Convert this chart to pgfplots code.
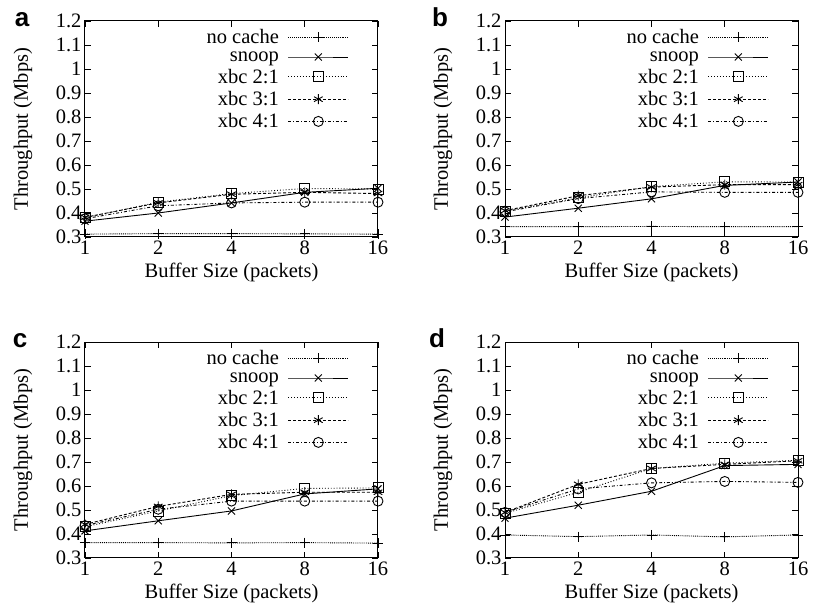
\documentclass[border=0pt]{standalone}
\usepackage{fontspec}
\setmainfont{Liberation Serif}
\newfontfamily\lettfont{Liberation Sans}
\usepackage{pgfplots}
\pgfplotsset{compat=1.18}
\begin{document}
\begin{tikzpicture}
\path[use as bounding box] (0pt,0pt) rectangle (814pt,612pt);
% panel a
\begin{axis}[at={(85pt,375pt)}, anchor=south west,
    scale only axis, width=293pt, height=216pt,
    xmode=log, log basis x=2, xmin=1, xmax=16,
    ymin=0.3, ymax=1.2,
    xtick={1,2,4,8,16}, xticklabels={1,2,4,8,16},
    ytick={0.3,0.4,0.5,0.6,0.7,0.8,0.9,1,1.1,1.2},
    yticklabels={0.3,0.4,0.5,0.6,0.7,0.8,0.9,1,1.1,1.2},
    tick align=inside, major tick length=6pt,
    tick style={black, line width=0.8pt},
    axis line style={line width=1pt},
    ticklabel style={font=\fontsize{20.5}{24}\selectfont},
    label style={font=\fontsize{20.5}{24}\selectfont},
    xlabel={Buffer Size (packets)},
    ylabel={Throughput (Mbps)},
    xlabel style={at={([yshift=-35pt]axis description cs:0.5,0)}, anchor=center},
    ylabel style={at={([xshift=-62pt]axis description cs:0,0.5)}, anchor=center},
    legend style={draw=none, fill=none, at={(1,1)}, anchor=north east, xshift=-26pt, yshift=-4pt,
      font=\fontsize{20.5}{24}\selectfont, row sep=2.5pt, /tikz/every odd column/.append style={column sep=7pt}},
    legend cell align=right, legend plot pos=right,
    legend image code/.code={\draw[mark repeat=2,mark phase=2] plot coordinates {(0pt,0pt) (30pt,0pt) (60pt,0pt)};}]
\addplot[black, line width=0.9pt, mark size=5pt, mark options={solid}, densely dotted, mark=+] coordinates {(1,0.312) (2,0.314) (4,0.314) (8,0.313) (16,0.312)};
\addplot[black, line width=0.9pt, mark size=5pt, mark options={solid}, solid, mark=x] coordinates {(1,0.366) (2,0.400) (4,0.442) (8,0.486) (16,0.503)};
\addplot[black, line width=0.9pt, mark size=5pt, mark options={solid}, dotted, mark=square] coordinates {(1,0.380) (2,0.445) (4,0.481) (8,0.502) (16,0.500)};
\addplot[black, line width=0.9pt, mark size=5pt, mark options={solid}, densely dashed, mark=asterisk] coordinates {(1,0.382) (2,0.442) (4,0.478) (8,0.486) (16,0.481)};
\addplot[black, line width=0.9pt, mark size=5pt, mark options={solid}, dash dot, mark=o] coordinates {(1,0.376) (2,0.430) (4,0.442) (8,0.445) (16,0.445)};
\legend{no cache, snoop, xbc 2:1, xbc 3:1, xbc 4:1}
\end{axis}
% panel b
\begin{axis}[at={(505pt,375pt)}, anchor=south west,
    scale only axis, width=293pt, height=216pt,
    xmode=log, log basis x=2, xmin=1, xmax=16,
    ymin=0.3, ymax=1.2,
    xtick={1,2,4,8,16}, xticklabels={1,2,4,8,16},
    ytick={0.3,0.4,0.5,0.6,0.7,0.8,0.9,1,1.1,1.2},
    yticklabels={0.3,0.4,0.5,0.6,0.7,0.8,0.9,1,1.1,1.2},
    tick align=inside, major tick length=6pt,
    tick style={black, line width=0.8pt},
    axis line style={line width=1pt},
    ticklabel style={font=\fontsize{20.5}{24}\selectfont},
    label style={font=\fontsize{20.5}{24}\selectfont},
    xlabel={Buffer Size (packets)},
    ylabel={Throughput (Mbps)},
    xlabel style={at={([yshift=-35pt]axis description cs:0.5,0)}, anchor=center},
    ylabel style={at={([xshift=-62pt]axis description cs:0,0.5)}, anchor=center},
    legend style={draw=none, fill=none, at={(1,1)}, anchor=north east, xshift=-26pt, yshift=-4pt,
      font=\fontsize{20.5}{24}\selectfont, row sep=2.5pt, /tikz/every odd column/.append style={column sep=7pt}},
    legend cell align=right, legend plot pos=right,
    legend image code/.code={\draw[mark repeat=2,mark phase=2] plot coordinates {(0pt,0pt) (30pt,0pt) (60pt,0pt)};}]
\addplot[black, line width=0.9pt, mark size=5pt, mark options={solid}, densely dotted, mark=+] coordinates {(1,0.343) (2,0.343) (4,0.344) (8,0.343) (16,0.343)};
\addplot[black, line width=0.9pt, mark size=5pt, mark options={solid}, solid, mark=x] coordinates {(1,0.383) (2,0.420) (4,0.459) (8,0.515) (16,0.529)};
\addplot[black, line width=0.9pt, mark size=5pt, mark options={solid}, dotted, mark=square] coordinates {(1,0.408) (2,0.463) (4,0.510) (8,0.530) (16,0.529)};
\addplot[black, line width=0.9pt, mark size=5pt, mark options={solid}, densely dashed, mark=asterisk] coordinates {(1,0.410) (2,0.472) (4,0.508) (8,0.518) (16,0.518)};
\addplot[black, line width=0.9pt, mark size=5pt, mark options={solid}, dash dot, mark=o] coordinates {(1,0.405) (2,0.460) (4,0.488) (8,0.486) (16,0.486)};
\legend{no cache, snoop, xbc 2:1, xbc 3:1, xbc 4:1}
\end{axis}
% panel c
\begin{axis}[at={(85pt,54pt)}, anchor=south west,
    scale only axis, width=293pt, height=216pt,
    xmode=log, log basis x=2, xmin=1, xmax=16,
    ymin=0.3, ymax=1.2,
    xtick={1,2,4,8,16}, xticklabels={1,2,4,8,16},
    ytick={0.3,0.4,0.5,0.6,0.7,0.8,0.9,1,1.1,1.2},
    yticklabels={0.3,0.4,0.5,0.6,0.7,0.8,0.9,1,1.1,1.2},
    tick align=inside, major tick length=6pt,
    tick style={black, line width=0.8pt},
    axis line style={line width=1pt},
    ticklabel style={font=\fontsize{20.5}{24}\selectfont},
    label style={font=\fontsize{20.5}{24}\selectfont},
    xlabel={Buffer Size (packets)},
    ylabel={Throughput (Mbps)},
    xlabel style={at={([yshift=-35pt]axis description cs:0.5,0)}, anchor=center},
    ylabel style={at={([xshift=-62pt]axis description cs:0,0.5)}, anchor=center},
    legend style={draw=none, fill=none, at={(1,1)}, anchor=north east, xshift=-26pt, yshift=-4pt,
      font=\fontsize{20.5}{24}\selectfont, row sep=2.5pt, /tikz/every odd column/.append style={column sep=7pt}},
    legend cell align=right, legend plot pos=right,
    legend image code/.code={\draw[mark repeat=2,mark phase=2] plot coordinates {(0pt,0pt) (30pt,0pt) (60pt,0pt)};}]
\addplot[black, line width=0.9pt, mark size=5pt, mark options={solid}, densely dotted, mark=+] coordinates {(1,0.364) (2,0.364) (4,0.363) (8,0.364) (16,0.362)};
\addplot[black, line width=0.9pt, mark size=5pt, mark options={solid}, solid, mark=x] coordinates {(1,0.413) (2,0.455) (4,0.496) (8,0.567) (16,0.588)};
\addplot[black, line width=0.9pt, mark size=5pt, mark options={solid}, dotted, mark=square] coordinates {(1,0.430) (2,0.496) (4,0.560) (8,0.590) (16,0.592)};
\addplot[black, line width=0.9pt, mark size=5pt, mark options={solid}, densely dashed, mark=asterisk] coordinates {(1,0.440) (2,0.515) (4,0.565) (8,0.574) (16,0.574)};
\addplot[black, line width=0.9pt, mark size=5pt, mark options={solid}, dash dot, mark=o] coordinates {(1,0.435) (2,0.503) (4,0.537) (8,0.537) (16,0.537)};
\legend{no cache, snoop, xbc 2:1, xbc 3:1, xbc 4:1}
\end{axis}
% panel d
\begin{axis}[at={(505pt,54pt)}, anchor=south west,
    scale only axis, width=293pt, height=216pt,
    xmode=log, log basis x=2, xmin=1, xmax=16,
    ymin=0.3, ymax=1.2,
    xtick={1,2,4,8,16}, xticklabels={1,2,4,8,16},
    ytick={0.3,0.4,0.5,0.6,0.7,0.8,0.9,1,1.1,1.2},
    yticklabels={0.3,0.4,0.5,0.6,0.7,0.8,0.9,1,1.1,1.2},
    tick align=inside, major tick length=6pt,
    tick style={black, line width=0.8pt},
    axis line style={line width=1pt},
    ticklabel style={font=\fontsize{20.5}{24}\selectfont},
    label style={font=\fontsize{20.5}{24}\selectfont},
    xlabel={Buffer Size (packets)},
    ylabel={Throughput (Mbps)},
    xlabel style={at={([yshift=-35pt]axis description cs:0.5,0)}, anchor=center},
    ylabel style={at={([xshift=-62pt]axis description cs:0,0.5)}, anchor=center},
    legend style={draw=none, fill=none, at={(1,1)}, anchor=north east, xshift=-26pt, yshift=-4pt,
      font=\fontsize{20.5}{24}\selectfont, row sep=2.5pt, /tikz/every odd column/.append style={column sep=7pt}},
    legend cell align=right, legend plot pos=right,
    legend image code/.code={\draw[mark repeat=2,mark phase=2] plot coordinates {(0pt,0pt) (30pt,0pt) (60pt,0pt)};}]
\addplot[black, line width=0.9pt, mark size=5pt, mark options={solid}, densely dotted, mark=+] coordinates {(1,0.396) (2,0.389) (4,0.396) (8,0.388) (16,0.396)};
\addplot[black, line width=0.9pt, mark size=5pt, mark options={solid}, solid, mark=x] coordinates {(1,0.466) (2,0.520) (4,0.578) (8,0.685) (16,0.690)};
\addplot[black, line width=0.9pt, mark size=5pt, mark options={solid}, dotted, mark=square] coordinates {(1,0.486) (2,0.574) (4,0.673) (8,0.695) (16,0.707)};
\addplot[black, line width=0.9pt, mark size=5pt, mark options={solid}, densely dashed, mark=asterisk] coordinates {(1,0.490) (2,0.607) (4,0.673) (8,0.690) (16,0.705)};
\addplot[black, line width=0.9pt, mark size=5pt, mark options={solid}, dash dot, mark=o] coordinates {(1,0.490) (2,0.588) (4,0.613) (8,0.619) (16,0.615)};
\legend{no cache, snoop, xbc 2:1, xbc 3:1, xbc 4:1}
\end{axis}
\node[font=\lettfont\bfseries\fontsize{26}{28}\selectfont, anchor=base] at (22pt,585pt) {a};
\node[font=\lettfont\bfseries\fontsize{26}{28}\selectfont, anchor=base] at (440pt,585pt) {b};
\node[font=\lettfont\bfseries\fontsize{26}{28}\selectfont, anchor=base] at (20pt,264pt) {c};
\node[font=\lettfont\bfseries\fontsize{26}{28}\selectfont, anchor=base] at (437pt,264pt) {d};
\end{tikzpicture}
\end{document}
